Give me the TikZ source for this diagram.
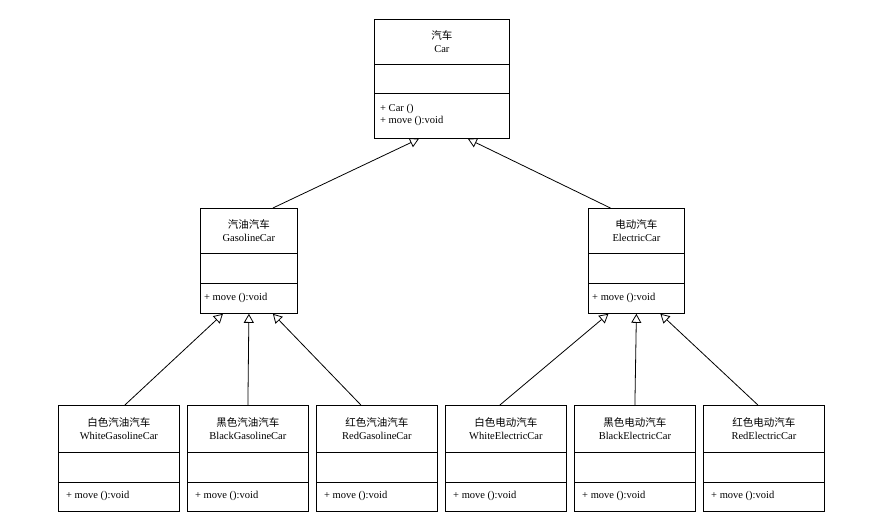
\documentclass[tikz,border=0pt]{standalone}
\usepackage{fontspec}
\setmainfont{Liberation Serif}
\newfontfamily\cjk{Noto Sans CJK SC}
\usetikzlibrary{arrows.meta}
\tikzset{
 cls/.style={draw,line width=0.8pt,rectangle,inner sep=0pt,anchor=north west},
 txt/.style={font=\fontsize{10.5}{12.5}\selectfont,align=center,inner sep=0pt},
 optxt/.style={font=\fontsize{10.5}{12.5}\selectfont,align=left,inner sep=0pt,anchor=west},
 inh/.style={line width=0.8pt,-{Triangle[open,length=9pt,width=10pt]}},
}
% #1 name, #2 x, #3 y, #4 w, #5 h, #6 div1 offset, #7 div2 offset, #8 cn, #9 en
\newcommand\umlbox[9]{%
 \node[cls,minimum width=#4pt,minimum height=#5pt] (#1) at (#2,#3) {};
 \draw[line width=0.8pt] ([yshift=-#6pt]#1.north west) -- ([yshift=-#6pt]#1.north east);
 \draw[line width=0.8pt] ([yshift=-#7pt]#1.north west) -- ([yshift=-#7pt]#1.north east);
 \node[txt] (#1-name) at ([yshift=-#6pt/2]#1.north) {{\cjk #8}\\#9};
}
\begin{document}
\begin{tikzpicture}[x=1pt,y=-1pt]
\useasboundingbox (0,0) rectangle (887,520);
\umlbox{car}{374}{19}{135}{119}{45}{74}{汽车}{Car}
\node[optxt] (car-ops) at ([xshift=6pt,yshift=-96pt]car.north west) {+ Car ()\\+ move ():void};
\umlbox{gas}{200}{208}{97}{105}{45}{75}{汽油汽车}{GasolineCar}
\node[optxt] (gas-ops) at ([xshift=4pt,yshift=-90pt]gas.north west) {+ move ():void};
\umlbox{ele}{588}{208}{96}{105}{45}{75}{电动汽车}{ElectricCar}
\node[optxt] (ele-ops) at ([xshift=4pt,yshift=-90pt]ele.north west) {+ move ():void};
\foreach \n/\x/\c/\e in {wg/58/白色汽油汽车/WhiteGasolineCar, bg/187/黑色汽油汽车/BlackGasolineCar, rg/316/红色汽油汽车/RedGasolineCar, we/445/白色电动汽车/WhiteElectricCar, be/574/黑色电动汽车/BlackElectricCar, re/703/红色电动汽车/RedElectricCar}{
 \umlbox{\n}{\x}{405}{121}{106}{47}{77}{\c}{\e}
 \node[optxt] (\n-ops) at ([xshift=8pt,yshift=-91pt]\n.north west) {+ move ():void};
}
\draw[inh] ([xshift=24pt]gas.north) -- ([xshift=-23pt]car.south);
\draw[inh] ([xshift=-26pt]ele.north) -- ([xshift=26pt]car.south);
\draw[inh] ([xshift=6pt]wg.north) -- ([xshift=-26pt]gas.south);
\draw[inh] (bg.north) -- (gas.south);
\draw[inh] ([xshift=-16pt]rg.north) -- ([xshift=24pt]gas.south);
\draw[inh] ([xshift=-6pt]we.north) -- ([xshift=-28pt]ele.south);
\draw[inh] (be.north) -- (ele.south);
\draw[inh] ([xshift=-6pt]re.north) -- ([xshift=24pt]ele.south);
\end{tikzpicture}
\end{document}
